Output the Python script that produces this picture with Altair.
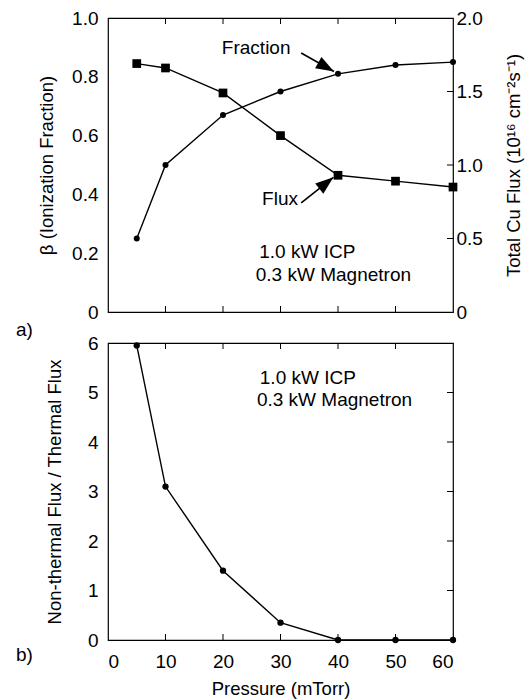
import math
import altair as alt
import pandas as pd

# ---------------- data ----------------
pressure = [5, 10, 20, 30, 40, 50, 60]
ion_fraction = [0.25, 0.50, 0.67, 0.75, 0.81, 0.84, 0.85]
cu_flux = [1.69, 1.66, 1.49, 1.20, 0.93, 0.89, 0.85]
flux_ratio = [5.95, 3.10, 1.40, 0.35, 0.0, 0.0, 0.0]

x_ticks = [0, 10, 20, 30, 40, 50, 60]
x_inner_ticks = [10, 20, 30, 40, 50]
beta_ticks = [0, 0.2, 0.4, 0.6, 0.8, 1.0]
flux_ticks = [0, 0.5, 1.0, 1.5, 2.0]
flux_inner_ticks = [0.5, 1.0, 1.5]
ratio_ticks = [0, 1, 2, 3, 4, 5, 6]
ratio_inner_ticks = [1, 2, 3, 4, 5]

# annotations (top panel, in pressure / beta units)
top_labels = ["Fraction", "Flux", "1.0 kW ICP", "0.3 kW Magnetron"]
top_label_x = [19.8, 26.8, 26.3, 25.7]
top_label_y = [0.898, 0.384, 0.205, 0.125]
arrow_x = [33.6, 33.6]
arrow_y = [0.881, 0.371]
arrow_x2 = [39.3, 39.2]
arrow_y2 = [0.818, 0.458]

# annotations (bottom panel, in pressure / ratio units)
bot_labels = ["1.0 kW ICP", "0.3 kW Magnetron"]
bot_label_x = [26.4, 25.9]
bot_label_y = [5.29, 4.85]

# ---------------- layout ----------------
W = 345
H1 = 294
H2 = 297
FONT = "Liberation Sans"
TICK = 6

top_df = pd.DataFrame({"p": pressure, "frac": ion_fraction, "flux": cu_flux})
bot_df = pd.DataFrame({"p": pressure, "ratio": flux_ratio})
xt_df = pd.DataFrame({"t": x_inner_ticks})
ft_df = pd.DataFrame({"t": flux_inner_ticks})
rt_df = pd.DataFrame({"t": ratio_inner_ticks})
tl_df = pd.DataFrame({"x": top_label_x, "y": top_label_y, "txt": top_labels})
bl_df = pd.DataFrame({"x": bot_label_x, "y": bot_label_y, "txt": bot_labels})

angles = []
for x1, y1, x2, y2 in zip(arrow_x, arrow_y, arrow_x2, arrow_y2):
    dx = (x2 - x1) * W / 60.0
    dy = -(y2 - y1) * H1
    angles.append(math.degrees(math.atan2(dy, dx)) % 360)
ar_df = pd.DataFrame({"x": arrow_x, "y": arrow_y, "x2": arrow_x2, "y2": arrow_y2, "ang": angles})

ARROW = "M0,0 L-1,-0.36 L-1,0.36 Z"

xsc = alt.Scale(domain=[0, 60], nice=False, zero=False)
ysc_beta = alt.Scale(domain=[0, 1], nice=False)
ysc_flux = alt.Scale(domain=[0, 2], nice=False)
ysc_ratio = alt.Scale(domain=[0, 6], nice=False)

fmt1 = "datum.value == 0 ? '0' : format(datum.value, '.1f')"

axis_beta = alt.Axis(values=beta_ticks, labelExpr=fmt1, domain=False, ticks=False,
                     grid=False, labelPadding=10, titlePadding=15)
axis_flux = alt.Axis(values=flux_ticks, labelExpr=fmt1, domain=False, ticks=False,
                     grid=False, orient="right", labelPadding=3, titlePadding=22,
                     titleAngle=270, titleBaseline="top")
axis_ratio = alt.Axis(values=ratio_ticks, format="d", domain=False, ticks=False,
                      grid=False, labelPadding=10, titlePadding=23)
axis_x = alt.Axis(values=x_ticks, format="d", domain=False, ticks=False, grid=False,
                  labelPadding=12, titlePadding=8)

beta_title = "β (Ionization Fraction)"
flux_title = "Total Cu Flux (10¹⁶ cm⁻²s⁻¹)"
ratio_title = "Non-thermal Flux / Thermal Flux"
x_title = "Pressure (mTorr)"


def XT(f):
    return alt.X(f, scale=xsc, axis=None)


def XB(f):
    return alt.X(f, scale=xsc, axis=axis_x, title=x_title)


def YB(f):
    return alt.Y(f, scale=ysc_beta, axis=axis_beta, title=beta_title)


def YF(f):
    return alt.Y(f, scale=ysc_flux, axis=axis_flux, title=flux_title)


def YR(f):
    return alt.Y(f, scale=ysc_ratio, axis=axis_ratio, title=ratio_title)


# ---------------- top panel ----------------
frac_line = alt.Chart(top_df).mark_line(color="black", strokeWidth=1.4).encode(
    x=XT("p:Q"), y=YB("frac:Q"))
frac_pts = alt.Chart(top_df).mark_circle(color="black", size=36, opacity=1).encode(
    x=XT("p:Q"), y=YB("frac:Q"))
top_text = alt.Chart(tl_df).mark_text(font=FONT, fontSize=19, align="left",
                                      baseline="middle", color="black").encode(
    x=XT("x:Q"), y=YB("y:Q"), text="txt:N")
arrow_line = alt.Chart(ar_df).mark_rule(color="black", strokeWidth=1.6).encode(
    x=XT("x:Q"), x2="x2:Q", y=YB("y:Q"), y2="y2:Q")
arrow_head = alt.Chart(ar_df).mark_point(shape=ARROW, filled=True, size=1300,
                                         color="black", opacity=1).encode(
    x=XT("x2:Q"), y=YB("y2:Q"), angle=alt.Angle("ang:Q", scale=None))
top_xticks = alt.Chart(xt_df).mark_rule(color="black", strokeWidth=1).encode(
    x=XT("t:Q"), y=alt.value(0), y2=alt.value(TICK))
bot_xticks_top = alt.Chart(xt_df).mark_rule(color="black", strokeWidth=1).encode(
    x=XT("t:Q"), y=alt.value(H1), y2=alt.value(H1 - TICK))
label_a = alt.Chart(pd.DataFrame({"txt": ["a)"]})).mark_text(
    font=FONT, fontSize=19, align="left", baseline="middle", color="black").encode(
    x=alt.value(-92), y=alt.value(H1 + 18), text="txt:N")

left_group = alt.layer(frac_line, frac_pts, top_text, arrow_line, arrow_head,
                       top_xticks, bot_xticks_top, label_a)

flux_line = alt.Chart(top_df).mark_line(color="black", strokeWidth=1.4).encode(
    x=XT("p:Q"), y=YF("flux:Q"))
flux_pts = alt.Chart(top_df).mark_square(color="black", size=76, opacity=1).encode(
    x=XT("p:Q"), y=YF("flux:Q"))
flux_ticks_marks = alt.Chart(ft_df).mark_rule(color="black", strokeWidth=1).encode(
    y=YF("t:Q"), x=alt.value(W - TICK), x2=alt.value(W))
right_group = alt.layer(flux_line, flux_pts, flux_ticks_marks)

top = alt.layer(left_group, right_group).resolve_scale(y="independent").properties(
    width=W, height=H1)

# ---------------- bottom panel ----------------
ratio_line = alt.Chart(bot_df).mark_line(color="black", strokeWidth=1.4).encode(
    x=XB("p:Q"), y=YR("ratio:Q"))
ratio_pts = alt.Chart(bot_df).mark_circle(color="black", size=40, opacity=1, clip=False).encode(
    x=XB("p:Q"), y=YR("ratio:Q"))
bot_text = alt.Chart(bl_df).mark_text(font=FONT, fontSize=19, align="left",
                                      baseline="middle", color="black").encode(
    x=XB("x:Q"), y=YR("y:Q"), text="txt:N")
b_top_ticks = alt.Chart(xt_df).mark_rule(color="black", strokeWidth=1).encode(
    x=XB("t:Q"), y=alt.value(0), y2=alt.value(TICK))
b_bot_ticks = alt.Chart(xt_df).mark_rule(color="black", strokeWidth=1).encode(
    x=XB("t:Q"), y=alt.value(H2), y2=alt.value(H2 - TICK))
b_right_ticks = alt.Chart(rt_df).mark_rule(color="black", strokeWidth=1).encode(
    y=YR("t:Q"), x=alt.value(W - TICK), x2=alt.value(W))
label_b = alt.Chart(pd.DataFrame({"txt": ["b)"]})).mark_text(
    font=FONT, fontSize=19, align="left", baseline="middle", color="black").encode(
    x=alt.value(-92), y=alt.value(H2 + 15), text="txt:N")

bottom = alt.layer(ratio_line, ratio_pts, bot_text, b_top_ticks, b_bot_ticks,
                   b_right_ticks, label_b).properties(width=W, height=H2)

chart = alt.vconcat(top, bottom, spacing=31, bounds="flush").properties(
    padding={"left": 15, "top": 8, "right": 5, "bottom": 5}
).configure(
    font=FONT
).configure_view(
    stroke="black", strokeWidth=1.2
).configure_axis(
    labelFont=FONT, labelFontSize=19, labelColor="black",
    titleFont=FONT, titleFontSize=18.5, titleFontWeight="normal", titleColor="black"
)

chart.save("out.html", embed_options={"renderer": "svg", "actions": False})
